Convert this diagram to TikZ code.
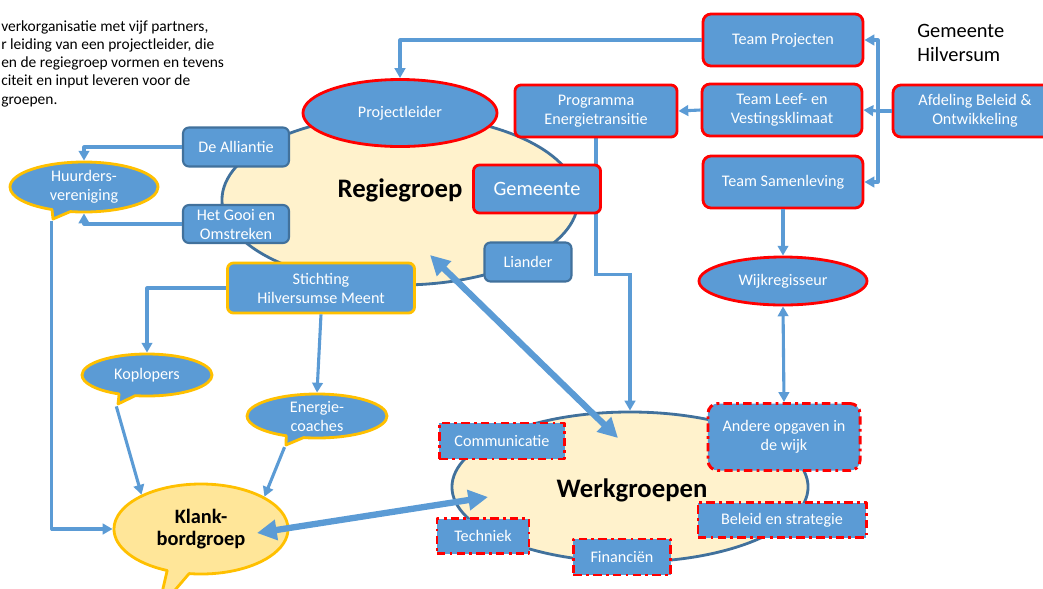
\documentclass[tikz,border=0pt]{standalone}
\usepackage{fontspec}
\setmainfont{Carlito}
\usetikzlibrary{shapes.geometric,shapes.callouts,arrows.meta}
\definecolor{boxblue}{RGB}{91,155,213}
\definecolor{rimblue}{RGB}{65,113,156}
\definecolor{ovalfill}{RGB}{255,242,204}
\definecolor{klankfill}{RGB}{255,230,153}
\definecolor{rimorange}{RGB}{255,192,0}
\pgfdeclarelayer{background}
\pgfsetlayers{background,main}

\begin{document}
\begin{tikzpicture}[x=0.025cm, y=-0.025cm, line join=round]

\tikzset{ boxtext/.style={text=white, align=center, inner sep=0pt,
    font={\fontsize{11.5pt}{13.5pt}\selectfont}},
  redbox/.style={boxtext, draw=red, line width=2pt, fill=boxblue, rounded corners=2mm},
  rimbox/.style={boxtext, draw=rimblue, line width=1.5pt, fill=boxblue, rounded corners=1.5mm},
  orangebox/.style={boxtext, draw=rimorange, line width=2pt, fill=boxblue, rounded corners=1.5mm},
  dashbox/.style={boxtext, draw=red, line width=2.1pt, fill=boxblue,
    dash pattern=on 6pt off 3pt on 2pt off 3pt},
  redoval/.style={boxtext, ellipse, draw=red, line width=2pt, fill=boxblue},
  bubble/.style={boxtext, ellipse callout, draw=rimorange, line width=2pt, fill=boxblue},
  groupoval/.style={ellipse, draw=rimblue, line width=2pt, fill=ovalfill, inner sep=0pt},
  grouptitle/.style={font={\fontsize{19pt}{22pt}\selectfont\bfseries}, inner sep=0pt},
  conn/.style={draw=boxblue, line width=2.2pt, -{Triangle[length=7pt,width=7.5pt]}},
  bigconn/.style={draw=boxblue, line width=4.5pt,
    {Triangle[length=14pt,width=14pt]}-{Triangle[length=14pt,width=14pt]}}
}

\useasboundingbox (0,0) rectangle (1043,588);
\clip (0,0) rectangle (1043,588);

% Intro text (cut off at the left)
\node[anchor=north west, align=left, inner sep=0pt,
  font={\fontsize{11pt}{13pt}\selectfont}] (intro) at (1,20)
  {verkorganisatie met vijf partners,\\
   r leiding van een projectleider, die\\
   en de regiegroep vormen en tevens\\
   citeit en input leveren voor de\\
   groepen.};

\node[anchor=west, align=left, inner sep=0pt,
  font={\fontsize{14.5pt}{16.5pt}\selectfont}] (gemhil) at (917,43) {Gemeente\\Hilversum};

% Regiegroep
\node[groupoval, minimum width=8.9cm, minimum height=4.25cm] (regie) at (400,200) {};
\node[grouptitle] (regietitle) at (400,190) {Regiegroep};

\node[redoval, minimum width=4.85cm, minimum height=1.675cm] (projl) at (400,113) {Projectleider};
\node[rimbox, minimum width=2.65cm, minimum height=0.975cm] (alli) at (236,147) {De Alliantie};
\node[rimbox, minimum width=2.65cm, minimum height=0.95cm] (gooi) at (236,224) {Het Gooi en\\Omstreken};
\node[rimbox, minimum width=2.175cm, minimum height=0.975cm] (liander) at (528,262) {Liander};
\node[redbox, minimum width=3.175cm, minimum height=1.2cm, rounded corners=1.5mm,
  font={\fontsize{14.5pt}{16pt}\selectfont}] (gem) at (537,189) {Gemeente};
\node[orangebox, minimum width=4.675cm, minimum height=1.25cm] (sticht) at (321,288) {Stichting\\Hilversumse Meent};

% Gemeente Hilversum
\node[redbox, minimum width=4cm, minimum height=1.3cm] (tproj) at (783,40) {Team Projecten};
\node[redbox, minimum width=4cm, minimum height=1.3cm] (tleef) at (782,110) {Team Leef- en\\Vestingsklimaat};
\node[redbox, minimum width=4cm, minimum height=1.3cm] (tsam) at (783,182) {Team Samenleving};
\node[redbox, minimum width=4.1cm, minimum height=1.3cm] (afd) at (975,111) {Afdeling Beleid \&\\Ontwikkeling};
\node[redbox, minimum width=4.05cm, minimum height=1.3cm, rounded corners=1.5mm] (prog) at (596,111) {Programma\\Energietransitie};
\node[redoval, minimum width=4.2cm, minimum height=1.2cm] (wijk) at (783,281) {Wijkregisseur};

% Werkgroepen
\node[groupoval, minimum width=8.9cm, minimum height=3.75cm] (werk) at (630,487) {};
\node[grouptitle] (werktitle) at (632,490) {Werkgroepen};

\node[dashbox, minimum width=3.125cm, minimum height=0.9cm] (comm) at (502,441) {Communicatie};
\node[dashbox, minimum width=3.8cm, minimum height=1.675cm, rounded corners=2.5mm] (andere) at (784,437) {Andere opgaven in\\de wijk};
\node[dashbox, minimum width=4.2cm, minimum height=0.875cm] (beleid) at (782,520) {Beleid en strategie};
\node[dashbox, minimum width=2.3cm, minimum height=0.875cm] (tech) at (483,536) {Techniek};
\node[dashbox, minimum width=2.425cm, minimum height=0.9cm] (fin) at (622,557) {Financiën};

% Bubbles
\node[bubble, minimum width=3.7cm, minimum height=1.25cm,
  callout absolute pointer={(53,219)}] (huur) at (84,187) {Huurders-\\vereniging};
\node[bubble, minimum width=3.25cm, minimum height=1.05cm,
  callout absolute pointer={(118,404)}] (kop) at (147,375) {Koplopers};
\node[bubble, minimum width=3.5cm, minimum height=1.1cm,
  callout absolute pointer={(286,445)}] (energ) at (317,416) {Energie-\\coaches};
\node[ellipse callout, draw=rimorange, line width=2pt, fill=klankfill, inner sep=0pt,
  minimum width=4.35cm, minimum height=2.25cm, align=center,
  font={\fontsize{14.5pt}{15.5pt}\selectfont\bfseries},
  callout absolute pointer={(158,610)}] (klank) at (201,529) {Klank-\\bordgroep};

% Connectors
\coordinate (afdsplit) at (878,111);
\coordinate (regiein) at (430,255);
\coordinate (werkin) at (618,438);
\coordinate (klankin) at (257,533);
\coordinate (werkleft) at (488,497);

\draw[conn] (tproj.west) -| (projl.north);
\draw[draw=boxblue, line width=2.2pt] (afd.west) -- (afdsplit);
\draw[conn] (afdsplit) |- (tproj.east);
\draw[conn] (afdsplit) -- (tleef.east);
\draw[conn] (afdsplit) |- (tsam.east);
\draw[conn] (tleef.west) -- (prog.east);
\begin{pgfonlayer}{background}
  \draw[conn] (prog.south) -- ++(0,136) -| (werk.north);
\end{pgfonlayer}
\draw[conn] (tsam.south) -- (wijk.north);
\draw[conn, {Triangle[length=7pt,width=7.5pt]}-{Triangle[length=7pt,width=7.5pt]}] (wijk.south) -- (andere.north);

\draw[conn] (alli.west) -| (huur.north);
\draw[conn] (gooi.west) -| (huur.south);
\draw[conn] (huur.pointer) |- (klank.west);
\draw[conn] (sticht.west) -| (kop.north);
\draw[conn] (sticht.south) -- (energ.north);
\draw[conn] (kop.pointer) -- (klank.150);
\draw[conn] (energ.pointer) -- (klank.27);

\draw[bigconn] (regiein) -- (werkin);
\draw[bigconn] (klankin) -- (werkleft);

\end{tikzpicture}
\end{document}
